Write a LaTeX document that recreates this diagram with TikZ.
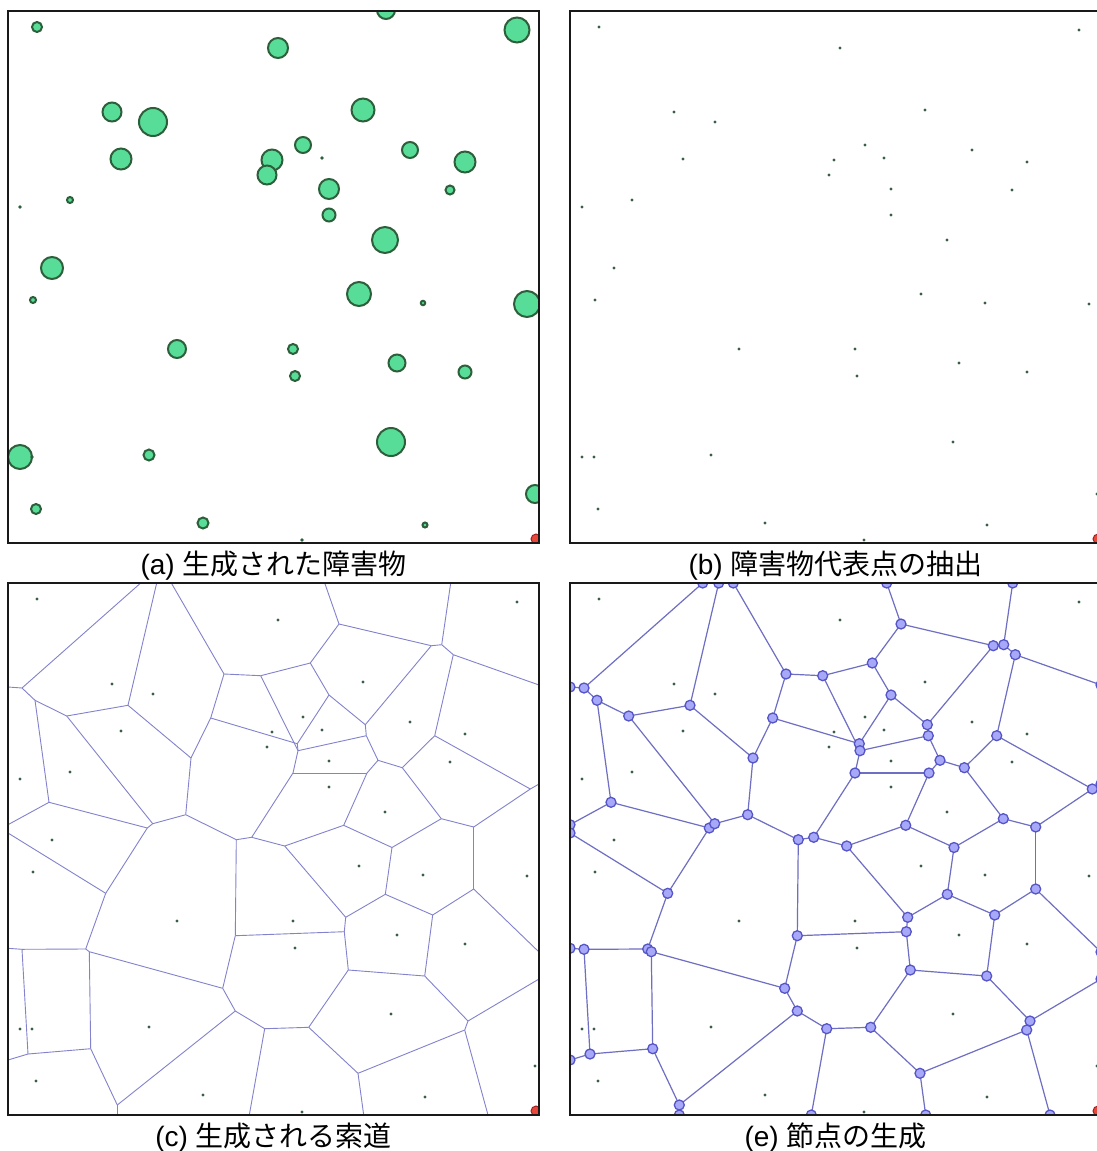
\documentclass[tikz,border=0pt]{standalone}
\usepackage{fontspec}
\setmainfont{Liberation Sans}
\newfontfamily\jp{Noto Sans CJK JP}
\definecolor{obsfill}{RGB}{88,221,153}
\definecolor{obsline}{RGB}{45,95,58}
\definecolor{ptcol}{RGB}{55,95,70}
\definecolor{edgec}{RGB}{130,130,205}
\definecolor{edgee}{RGB}{110,110,195}
\definecolor{vfill}{RGB}{168,168,248}
\definecolor{vline}{RGB}{85,85,200}
\definecolor{redfill}{RGB}{232,72,60}
\definecolor{redline}{RGB}{165,30,30}
\def\obslist{37/27/5, 386/10/9, 517/30/12.5, 278/48/10, 112/112/9.5, 153/122/14, 363/110/11.5, 121/159/10.5, 303/145/8, 410/150/8, 465/162/10.5, 272/160/10.5, 267/175/9.5, 450/190/4.5, 70/200/3, 329/189/10, 329/215/6.5, 385/240/13, 52/268/11, 33/300/3, 359/294/12, 423/303/2.2, 527/304/13, 177/349/9, 293/349/5, 295/376/5, 397/363/8.5, 465/372/6.5, 391/442/14, 20/457/12, 149/455/5.5, 36/509/5, 203/523/5.5, 535/494/9, 425/525/2.5}
\def\tinylist{322/158, 20/207, 32/457, 302/540}
\def\ptlist{37/27, 386/10, 517/30, 278/48, 112/112, 153/122, 363/110, 121/159, 303/145, 410/150, 465/162, 272/160, 267/175, 450/190, 70/200, 329/189, 329/215, 385/240, 52/268, 33/300, 359/294, 423/303, 527/304, 177/349, 293/349, 295/376, 397/363, 465/372, 391/442, 20/457, 149/455, 36/509, 203/523, 535/494, 425/525, 322/158, 20/207, 32/457, 302/540}
\def\vlist{t1/140.7/11, t2/156.7/11, t3/171.3/11, t4/324.7/11, t5/450.7/11,
 l1/8/115, l2/8/252.7, l3/8/261, l4/8/376.3, l5/8/488,
 r1/539/113, r2/539/212, r3/539/380, r4/539/407,
 d1/117.3/543, d2/249.3/543, d3/363.7/543, d4/488/543,
 a1/22/116, a2/35/128.3, a3/66.7/144, a4/128/133.3, a5/224/102, a6/260.7/103.7,
 a7/210.7/146, a8/191/186, a9/49/230.3, a10/147.3/256, a11/152.7/251.7,
 a12/185.7/242.7, a13/236.3/267.7, a14/251.7/265.3, a15/339/52, a16/431.3/73.7,
 a17/441.7/72.7, a18/453.3/82.7, a19/310.3/91, a20/329/123, a21/365.3/152.7,
 a22/366.3/163.7, a23/297.3/171.7, a24/298/178.7, a25/434.7/163.7, a26/378/188.3,
 a27/402.3/195.7, a28/293/201, a29/367/201, a30/530.3/217, a31/343.7/253.3,
 a32/441.3/246.7, a33/473.7/255, a34/284.7/274, a35/392/275.5, a36/105.7/321.3,
 a37/22/377.3, a38/85.7/377, a39/89.3/379.7, a40/235.3/363.7, a41/222.7/416.3,
 a42/235.3/439, a43/264.7/456.7, a44/28/482, a45/90.7/476.7, a46/117.3/533,
 a47/473.7/317, a48/385.3/322.3, a49/345.7/345.3, a50/344.3/359.7, a51/432.7/343,
 a52/348.3/398, a53/424.7/404, a54/308.7/455.3, a55/468/449, a56/464.7/458, a57/358/501.3}
\def\elist{t1/a1, l1/a1, a1/a2, a2/a3, a2/a9, a3/a4, a3/a11, t2/a4, a4/a8, t3/a5, a5/a6, a5/a7, a7/a8, a7/a23, a8/a12, a12/a11, a12/a13, a11/a10, a10/a9, a9/l2, a10/a36, l3/a36, a36/a38, a38/a37, a37/l4, a38/a39, a39/a41, a39/a45, a37/a44, a44/l5, a44/a45, a45/a46, a46/d1, a46/a42, a42/a41, a42/a43, a41/a40, a40/a13, a13/a14, a14/a28, a14/a34, a40/a50, a43/d2, a43/a54, a6/a19, a6/a24, a19/a15, a19/a20, t4/a15, a15/a16, a16/a21, a16/a17, t5/a17, a17/a18, a18/r1, a18/a25, a20/a23, a20/a21, a21/a22, a22/a24, a22/a26, a23/a24, a24/a28, a28/a29, a29/a26, a29/a31, a26/a27, a27/a25, a27/a32, a25/a30, a30/r2, a30/a33, a32/a33, a32/a35, a31/a34, a31/a35, a33/a47, a34/a49, a35/a48, a48/a49, a48/a51, a47/a51, a47/r3, a49/a50, a50/a52, a51/a53, a52/a53, a52/a54, a53/a55, a55/r4, a55/a56, a56/a57, a56/d4, a54/a57, a57/d3}
\begin{document}
\begin{tikzpicture}[x=1pt,y=-1pt,
  obst/.style={fill=obsfill,draw=obsline,line width=2pt},
  tinyob/.style={fill=obsline},
  ptdot/.style={fill=ptcol},
  redpt/.style={fill=redfill,draw=redline,line width=1pt},
  framebox/.style={draw=black!90,line width=2pt},
  vedgec/.style={draw=edgec,line width=0.9pt},
  vedgee/.style={draw=edgee,line width=1.2pt},
  vnode/.style={circle,draw=vline,fill=vfill,line width=1.3pt,inner sep=0pt,minimum size=10pt},
  capt/.style={anchor=base,inner sep=0pt,font=\fontsize{28}{34}\selectfont}]
\useasboundingbox (0,0) rectangle (1097,1151);
\clip (0,0) rectangle (1097,1151);
\fill[white] (0,0) rectangle (1097,1151);
% ---------- (a) ----------
\begin{scope}
  \clip (8,11) rectangle (539,543);
  \foreach \x/\y/\r in \obslist {\draw[obst] (\x,\y) circle[radius=\r pt];}
  \foreach \x/\y in \tinylist {\fill[tinyob] (\x,\y) circle[radius=1.9pt];}
  \draw[redpt] (536,539) circle[radius=5pt];
\end{scope}
\draw[framebox] (8,11) rectangle (539,543);
% ---------- (b) ----------
\begin{scope}[shift={(562,0)}]
  \begin{scope}
    \clip (8,11) rectangle (539,543);
    \foreach \x/\y in \ptlist {\fill[ptdot] (\x,\y) circle[radius=1.6pt];}
    \draw[redpt] (536,539) circle[radius=5pt];
  \end{scope}
  \draw[framebox] (8,11) rectangle (539,543);
\end{scope}
% ---------- (c) ----------
\begin{scope}[shift={(0,572)}]
  \begin{scope}
    \clip (8,11) rectangle (539,543);
    \foreach \n/\x/\y in \vlist {\coordinate (c-\n) at (\x,\y);}
    \foreach \p/\q in \elist {\draw[vedgec] (c-\p) -- (c-\q);}
    \foreach \x/\y in \ptlist {\fill[ptdot] (\x,\y) circle[radius=1.6pt];}
    \draw[redpt] (536,539) circle[radius=5pt];
  \end{scope}
  \draw[framebox] (8,11) rectangle (539,543);
\end{scope}
% ---------- (e) ----------
\begin{scope}[shift={(562,572)}]
  \begin{scope}
    \clip (8,11) rectangle (539,543);
    \foreach \n/\x/\y in \vlist {\coordinate (ep-\n) at (\x,\y);}
    \foreach \p/\q in \elist {\draw[vedgee] (ep-\p) -- (ep-\q);}
    \foreach \x/\y in \ptlist {\fill[ptdot] (\x,\y) circle[radius=1.6pt];}
    \foreach \n/\x/\y in \vlist {\node[vnode] (e-\n) at (ep-\n) {};}
    \draw[redpt] (536,539) circle[radius=5pt];
  \end{scope}
  \draw[framebox] (8,11) rectangle (539,543);
\end{scope}
% ---------- captions ----------
\node[capt] (capa) at (273.5,574) {(a) {\jp 生成された障害物}};
\node[capt] (capb) at (835.5,574) {(b) {\jp 障害物代表点の抽出}};
\node[capt] (capc) at (273.5,1146) {(c) {\jp 生成される索道}};
\node[capt] (cape) at (835.5,1146) {(e) {\jp 節点の生成}};
\end{tikzpicture}
\end{document}
